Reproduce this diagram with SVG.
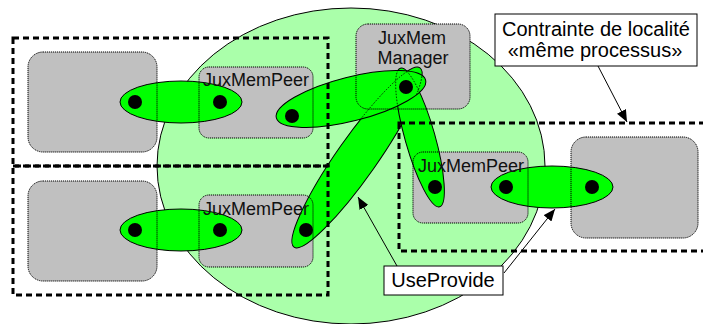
<svg xmlns="http://www.w3.org/2000/svg" width="703" height="324" viewBox="0 0 703 324">
<style>
.box{fill:#c0c0c0;stroke:none}
.boxline{fill:none;stroke:#000;stroke-width:1;stroke-dasharray:1.2 0.8}
.link{fill:#00ff00;stroke:#000;stroke-width:1}
.hid{fill:none;stroke:#000;stroke-width:0.8;stroke-dasharray:1.5 1.5}
.dot{fill:#000}
.zone{fill:none;stroke:#000;stroke-width:3;stroke-dasharray:6 4}
.t{font-family:"Liberation Sans",Arial,sans-serif;font-size:18px;fill:#111}
.lbl{font-family:"Liberation Sans",Arial,sans-serif;font-size:20px;fill:#000;text-anchor:middle}
.note{fill:#fff;stroke:#000;stroke-width:1}
.arr{fill:none;stroke:#000;stroke-width:1;marker-end:url(#ah)}
</style>
<defs>
<marker id="ah" markerUnits="userSpaceOnUse" markerWidth="12" markerHeight="10" refX="12" refY="5" orient="auto">
<path d="M0,0 L12,5 L0,10 z" fill="#000"/>
</marker>
<clipPath id="c3"><ellipse cx="351" cy="99" rx="77" ry="22" transform="rotate(-14.2 351 99)"/></clipPath>
</defs>

<g id="domain"><ellipse cx="351" cy="166" rx="194" ry="158" fill="#aaffaa" stroke="#000" stroke-width="1"/></g>

<g id="nodes-fill">
<rect class="box" x="28" y="52" width="129" height="100" rx="15"/>
<rect class="box" x="28" y="181" width="129" height="100" rx="15"/>
<rect class="box" x="199" y="67" width="114" height="71" rx="10"/>
<rect class="box" x="199" y="195" width="114" height="72" rx="10"/>
<rect class="box" x="356" y="24" width="114" height="85" rx="12"/>
<rect class="box" x="413" y="152" width="115" height="71" rx="10"/>
<rect class="box" x="571" y="137" width="127" height="101" rx="15"/>
</g>

<g id="connectors">
<ellipse class="link" cx="181" cy="102" rx="61" ry="21"/>
<ellipse class="link" cx="181" cy="230" rx="61" ry="21"/>
<ellipse class="link" cx="552" cy="187" rx="61" ry="21"/>
<ellipse class="link" cx="357" cy="157.5" rx="109.5" ry="20" transform="rotate(-54.9 357 157.5)"/>
<ellipse class="link" cx="420" cy="137.5" rx="72" ry="15" transform="rotate(74.2 420 137.5)"/>
<ellipse class="link" cx="351" cy="99" rx="77" ry="22" transform="rotate(-14.2 351 99)"/>
<g clip-path="url(#c3)">
<ellipse class="hid" cx="357" cy="157.5" rx="109.5" ry="20" transform="rotate(-54.9 357 157.5)"/>
<ellipse class="hid" cx="420" cy="137.5" rx="72" ry="15" transform="rotate(74.2 420 137.5)"/>
</g>
<circle class="dot" cx="135" cy="102" r="7"/>
<circle class="dot" cx="220" cy="102" r="7"/>
<circle class="dot" cx="135" cy="230" r="7"/>
<circle class="dot" cx="220" cy="230" r="7"/>
<circle class="dot" cx="292" cy="116" r="7"/>
<circle class="dot" cx="406" cy="87" r="7"/>
<circle class="dot" cx="306" cy="230" r="7"/>
<circle class="dot" cx="435" cy="187" r="7"/>
<circle class="dot" cx="506" cy="187" r="7"/>
<circle class="dot" cx="592" cy="187" r="7"/>
</g>

<g id="node-outlines">
<rect class="boxline" x="28" y="52" width="129" height="100" rx="15"/>
<rect class="boxline" x="28" y="181" width="129" height="100" rx="15"/>
<rect class="boxline" x="199" y="67" width="114" height="71" rx="10"/>
<rect class="boxline" x="199" y="195" width="114" height="72" rx="10"/>
<rect class="boxline" x="356" y="24" width="114" height="85" rx="12"/>
<rect class="boxline" x="413" y="152" width="115" height="71" rx="10"/>
<rect class="boxline" x="571" y="137" width="127" height="101" rx="15"/>
</g>

<g id="zones">
<rect class="zone" x="13" y="38" width="315" height="128"/>
<rect class="zone" x="13" y="166" width="315" height="129"/>
<rect class="zone" x="399" y="123" width="320" height="128"/>
</g>

<g id="peer-top"><text class="t" x="203" y="86">JuxMemPeer</text></g>
<g id="peer-bottom"><text class="t" x="203" y="215">JuxMemPeer</text></g>
<g id="peer-right"><text class="t" x="418" y="172">JuxMemPeer</text></g>
<g id="manager">
<text class="t" x="412" y="44" text-anchor="middle">JuxMem</text>
<text class="t" x="413" y="64" text-anchor="middle">Manager</text>
</g>

<g id="note-contrainte">
<rect class="note" x="495" y="14" width="202" height="52"/>
<text class="lbl" x="596" y="36">Contrainte de localité</text>
<text class="lbl" x="595" y="57">«même processus»</text>
</g>
<g id="note-useprovide">
<rect class="note" x="384" y="266" width="119" height="29"/>
<text class="lbl" x="443" y="287">UseProvide</text>
</g>

<g id="arrows">
<line class="arr" x1="598" y1="66" x2="627" y2="122"/>
<line class="arr" x1="397" y1="266" x2="358" y2="197"/>
<line class="arr" x1="504" y1="273" x2="555" y2="209"/>
</g>
</svg>
